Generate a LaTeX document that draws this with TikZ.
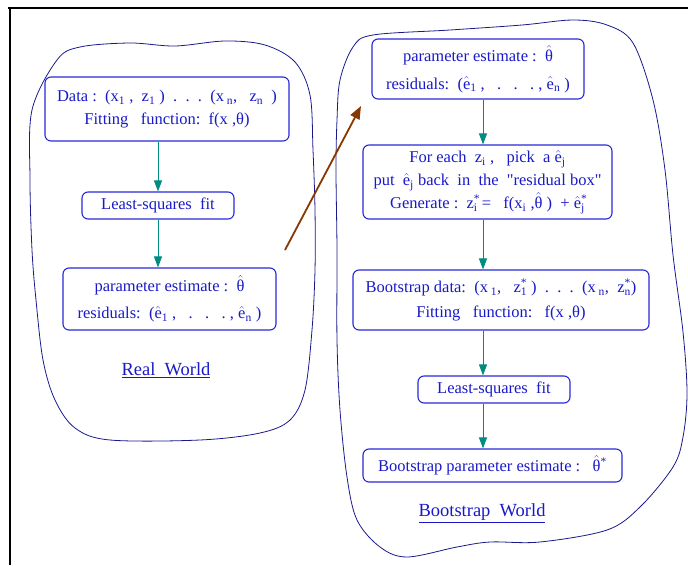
\documentclass[tikz,border=0pt]{standalone}
\usepackage{fontspec}
\setmainfont{Liberation Serif}[Ligatures=TeXOff]
\usetikzlibrary{arrows.meta}
\definecolor{boxblue}{RGB}{40,40,215}
\definecolor{txtblue}{RGB}{25,25,200}
\definecolor{blobnavy}{RGB}{25,25,140}
\definecolor{arrteal}{RGB}{0,140,130}
\definecolor{arrbrown}{RGB}{135,55,0}
\newcommand{\hatt}[1]{\ensuremath{\hat{\mbox{#1}}}}
\newcommand{\sbx}[1]{\textsubscript{#1}}
\newcommand{\spx}[1]{\textsuperscript{#1}}
\newcommand{\ssx}[2]{\rlap{\textsuperscript{#1}}\textsubscript{#2}}
\begin{document}
\begin{tikzpicture}[x=1pt,y=-1pt,
  fbox/.style={draw=boxblue,line width=1.1pt,rounded corners=6pt,text=txtblue,align=center,
    inner sep=0pt,font=\fontsize{16.5}{23}\selectfont},
  blob/.style={draw=blobnavy,line width=0.8pt},
  tarrow/.style={draw=arrteal,line width=1pt,-{Triangle[length=11pt,width=8pt]},fill=arrteal},
  barrow/.style={draw=arrbrown,line width=1.8pt,-{Triangle[length=13pt,width=10pt]}},
  ttl/.style={text=txtblue,font=\fontsize{18.5}{21}\selectfont}]
\useasboundingbox (0,0) rectangle (688,565);
% frame
\draw[line width=2.6pt] (8,8) -- (688,8);
\draw[line width=2.2pt] (10,7) -- (10,565);
% blobs
\draw[blob] plot[smooth cycle,tension=0.55] coordinates{
 (57,60) (80,47) (130,43) (175,46) (225,41) (265,45) (295,62) (310,95) (313,150) (315,210)
 (315,270) (312,330) (305,390) (290,420) (260,433) (200,440) (110,440) (75,428) (55,400)
 (43,360) (36,300) (32,250) (30,180) (32,110)};
\draw[blob] plot[smooth cycle,tension=0.55] coordinates{
 (340,80) (353,47) (373,35) (450,30) (522,25) (573,20) (607,25) (633,43) (653,100) (665,170)
 (673,255) (683,332) (687,393) (683,437) (673,467) (640,507) (607,530) (540,542) (490,542)
 (457,547) (407,557) (380,547) (357,520) (347,477) (340,410) (337,340) (337,250) (336,170) (337,120)};
% left boxes
\node[fbox,minimum width=244pt,minimum height=64pt] (L1) at (167,109)
 {Data :\ \ (x\sbx{1}\ , \ z\sbx{1}\ )\ \ .\ \ .\ \ .\ \ (x\,\sbx{n}, \ \ z\sbx{n}\ \ )\\
  Fitting\ \ \ function:\ \ f(x ,θ)};
\node[fbox,minimum width=152pt,minimum height=27pt] (L2) at (158,205.5) {Least-squares\ \ fit};
\node[fbox,minimum width=213pt,minimum height=62pt,font=\fontsize{16.5}{27}\selectfont] (L3) at (169.5,299)
 {parameter estimate :\ \ \hatt{θ}\\
  residuals:\ \ (\hatt{e}\sbx{1}\ ,\ \ \ .\ \ \ .\ \ \ .\ , \hatt{e}\sbx{n}\ )};
\node[ttl] (RW) at (166,370) {\underline{Real\ \ World}};
% right boxes
\coordinate (rx) at (483,0);
\node[fbox,minimum width=212pt,minimum height=60pt,font=\fontsize{16.5}{28}\selectfont] (R1) at (478,69)
 {parameter estimate :\ \ \hatt{θ}\\
  residuals:\ \ (\hatt{e}\sbx{1}\ ,\ \ \ .\ \ \ .\ \ \ .\ , \hatt{e}\sbx{n}\ )};
\node[fbox,minimum width=249pt,minimum height=74pt] (R2) at (487.5,182)
 {For\ each\ \ z\sbx{i}\ ,\ \ \ pick\ \ a\ \hatt{e}\sbx{j}\\
  put\ \ \hatt{e}\sbx{j}\ back\ \ in\ \ the\ \ "residual box"\\
  Generate :\ \ z\ssx{*}{i}\ =\ \ \ f(x\sbx{i}\ ,\hatt{θ}\ )\ \ +\ \hatt{e}\ssx{*}{j}};
\node[fbox,minimum width=296pt,minimum height=60pt,font=\fontsize{16.5}{25}\selectfont] (R3) at (501,300)
 {Bootstrap data:\ \ (x\,\sbx{1},\ \ \ z\ssx{*}{1}\ )\ \ .\ \ .\ \ .\ \ (x\,\sbx{n},\ \ z\ssx{*}{n})\\
  Fitting\ \ \ function:\ \ \ f(x ,θ)};
\node[fbox,minimum width=152pt,minimum height=27pt] (R4) at (494,389.5) {Least-squares\ \ fit};
\node[fbox,minimum width=259pt,minimum height=33pt] (R5) at (492.5,465.5)
 {Bootstrap parameter estimate :\ \ \ \hatt{θ}\spx{*}};
\node[ttl] (BW) at (482,513) {\underline{Bootstrap\ \ World}};
% teal arrows
\draw[tarrow] (L2.north |- L1.south) -- (L2.north);
\draw[tarrow] (L2.south) -- (L2.south |- L3.north);
\draw[tarrow] (R1.south -| rx) -- (R2.north -| rx);
\draw[tarrow] (R2.south -| rx) -- (R3.north -| rx);
\draw[tarrow] (R3.south -| rx) -- (R4.north -| rx);
\draw[tarrow] (R4.south -| rx) -- (R5.north -| rx);
% brown arrow
\coordinate (bt) at (285,250);
\coordinate (bh) at (361,106);
\draw[barrow] (bt) -- (bh);
\end{tikzpicture}
\end{document}
